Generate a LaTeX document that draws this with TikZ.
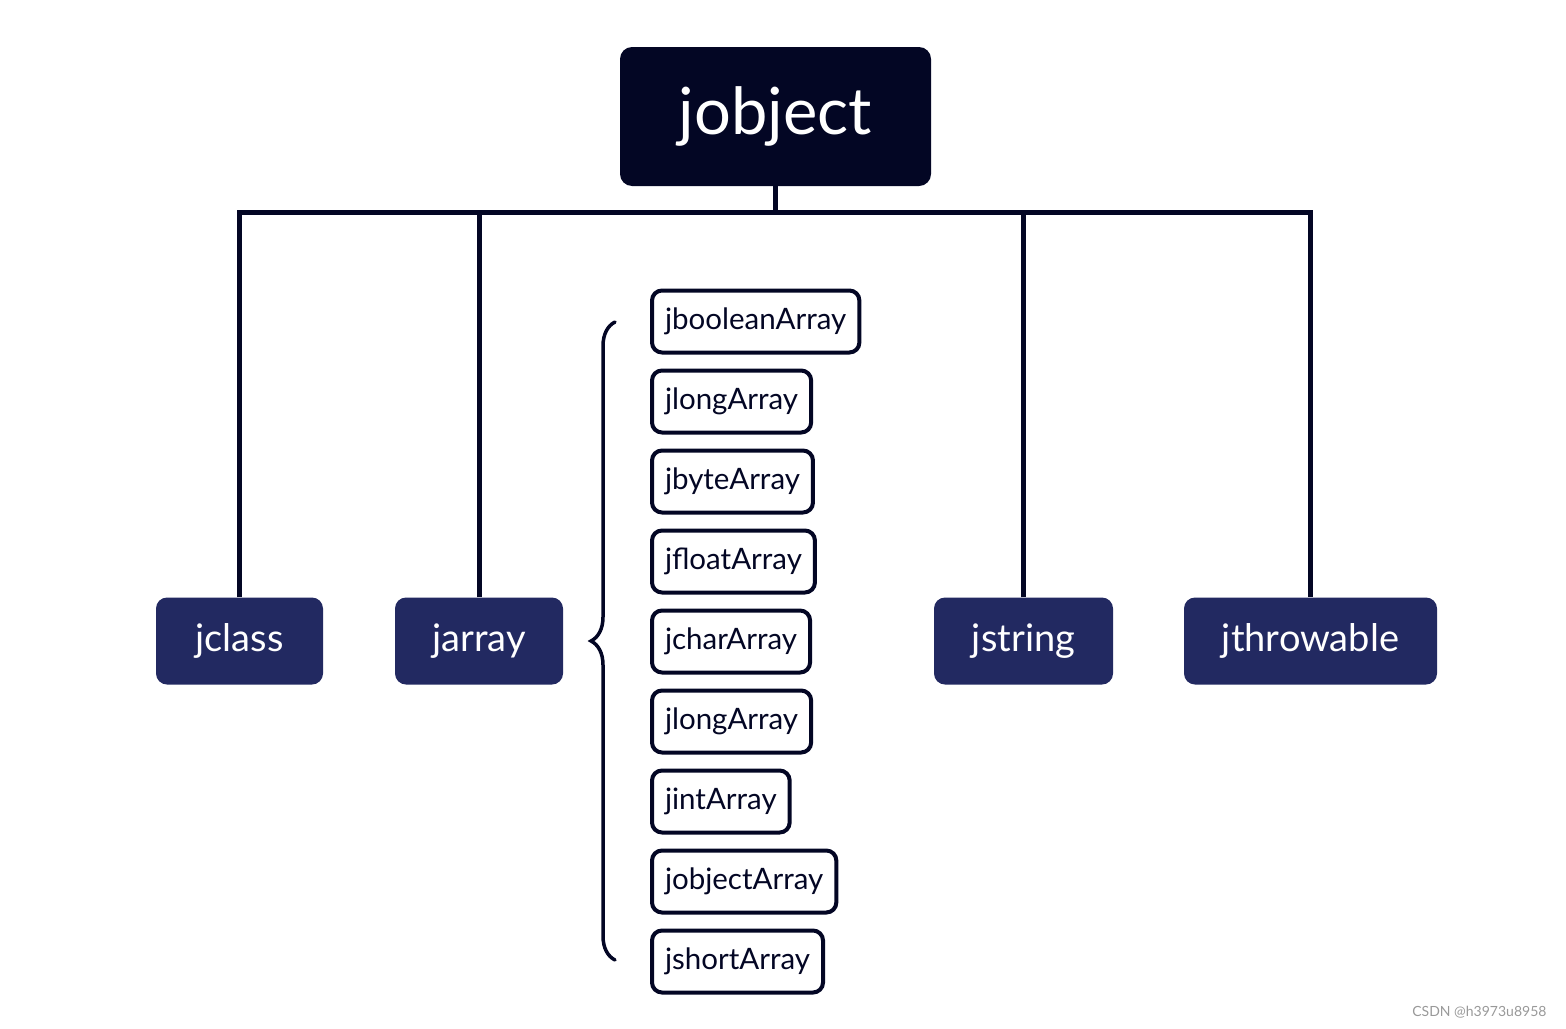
\documentclass[tikz,border=0pt]{standalone}
\usepackage{fontspec}
\setmainfont{Lato}
\usepackage{tikz}
\usetikzlibrary{decorations.pathreplacing,positioning}
\definecolor{rootblue}{HTML}{030624}
\definecolor{typeblue}{HTML}{222961}
\tikzset{
    myroot/.style={fill=rootblue,text=white,rounded corners=12pt,minimum width=311pt,minimum height=139pt,font=\fontsize{65}{72}\selectfont},
    mytype/.style={fill=typeblue,text=white,rounded corners=11pt,minimum height=87pt,font=\fontsize{38}{44}\selectfont},
    myarray/.style={draw=rootblue,text=rootblue,line width=4pt,rounded corners=10pt,minimum height=62pt,inner xsep=13pt,anchor=west,font=\fontsize{29.5}{34}\selectfont},
    myline/.style={draw=rootblue,line width=5pt},
    mybrace/.style={draw=rootblue,line width=3.5pt,line cap=round,decorate,decoration={brace,amplitude=24pt}}
}
\begin{document}
\begin{tikzpicture}[x=1pt,y=-1pt]
  \useasboundingbox (0,0) rectangle (1566,1028);

  % 根节点
  \node[myroot] (jobject) at (775.5,116.5) {jobject};

  % 第二层
  \node[mytype,minimum width=167pt] (jclass) at (239.5,641) {jclass};
  \node[mytype,minimum width=168pt] (jarray) at (479,641) {jarray};
  \node[mytype,minimum width=179pt] (jstring) at (1023.5,641) {jstring};
  \node[mytype,minimum width=253pt] (jthrowable) at (1310.5,641) {jthrowable};

  % 总线
  \coordinate (bus) at (775.5,212);
  \draw[myline] (jobject.south) -- (bus);
  \draw[myline] (jclass.north) -- (jclass.north |- bus)
    -- (jthrowable.north |- bus) -- (jthrowable.north);
  \draw[myline] (jarray.north) -- (jarray.north |- bus);
  \draw[myline] (jstring.north) -- (jstring.north |- bus);

  % 数组类型
  \foreach \t [count=\i] in {jbooleanArray,jlongArray,jbyteArray,jfloatArray,
      jcharArray,jlongArray,jintArray,jobjectArray,jshortArray}{
    \node[myarray] (arr\i) at (650,{321.5+80*(\i-1)}) {\t};
  }

  % 大括号
  \coordinate (braceb) at (615,960);
  \coordinate (bracet) at (615,322);
  \draw[mybrace] (braceb) -- (bracet);

  % 水印
  \node[text=black!40,font=\fontsize{14}{16}\selectfont,anchor=east] (mark) at (1550,1012) {CSDN @h3973u8958};
\end{tikzpicture}
\end{document}
